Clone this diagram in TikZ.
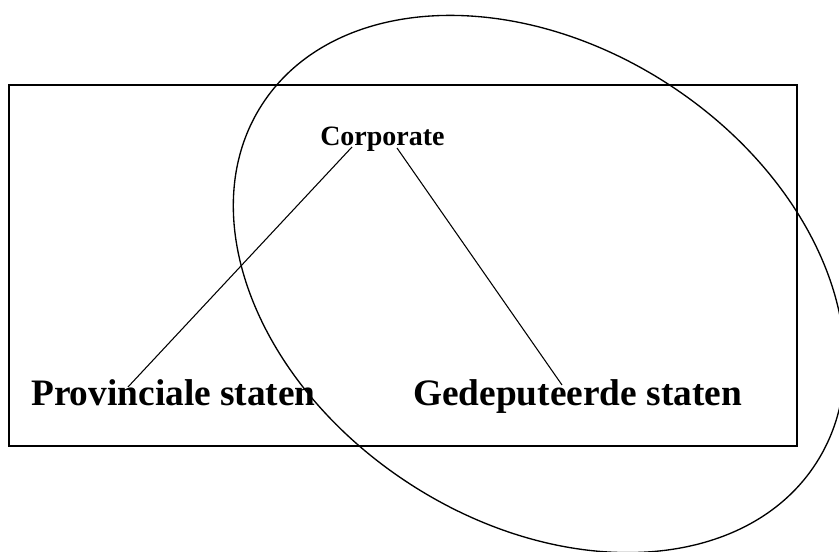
\documentclass[tikz,border=0pt]{standalone}
\usepackage{fontspec}
\setmainfont{Liberation Serif}
\usepackage{tikz}
\usetikzlibrary{positioning,calc}

\begin{document}
\begin{tikzpicture}[x=0.75pt,y=0.75pt,
    bigtext/.style={font=\bfseries\fontsize{28}{33}\selectfont, inner sep=0pt, anchor=base west},
    smalltext/.style={font=\bfseries\fontsize{21}{25}\selectfont, inner sep=0pt, anchor=base west},
    outline/.style={line width=1pt}]
			\useasboundingbox (0,0) rectangle (839,552);
			%\draw[step=50,black,very thin] (0,0) grid (839,552);
			\draw[outline] (9,106) rectangle (797,467);
			\draw[outline, rotate around={-33:(539,268)}] (539,268) ellipse [x radius=330, y radius=238];
			\node[smalltext] (corp) at (320,406) {Corporate};
			\node[bigtext] (prov) at (31,146) {Provinciale staten};
			\node[bigtext] (gede) at (413,146) {Gedeputeerde staten};
			\coordinate (corpL) at (352,405);
			\coordinate (corpR) at (397,404);
			\coordinate (provT) at (128,165);
			\coordinate (gedeT) at (562,167);
			\draw[line width=0.8pt] (corpL)--(provT);
			\draw[line width=0.8pt] (corpR)--(gedeT);
		\end{tikzpicture}
\end{document}
